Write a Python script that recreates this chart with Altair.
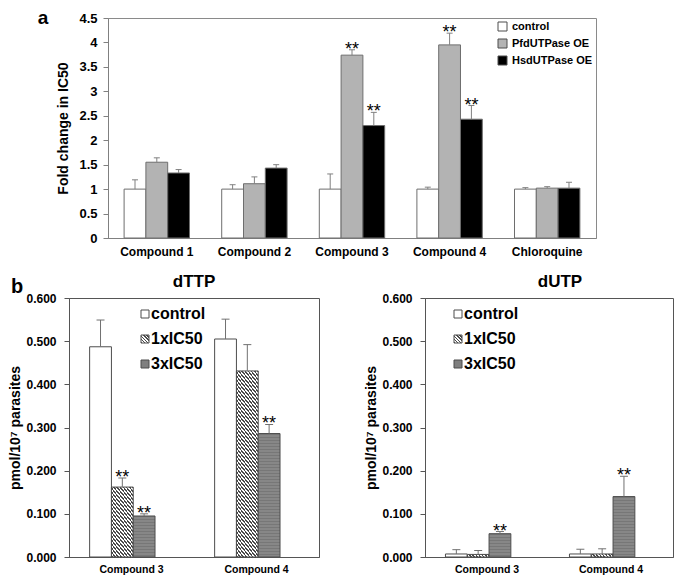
import altair as alt

FONT = "Liberation Sans"

# ---------------- panel a data ----------------
compounds_a = ["Compound 1", "Compound 2", "Compound 3", "Compound 4", "Chloroquine"]
series_a = ["control", "PfdUTPase OE", "HsdUTPase OE"]
control_a = [1.00, 1.00, 1.00, 1.00, 1.00]
control_a_err = [0.19, 0.09, 0.31, 0.04, 0.03]
pfd_a = [1.55, 1.11, 3.74, 3.95, 1.02]
pfd_a_err = [0.09, 0.14, 0.11, 0.24, 0.03]
hsd_a = [1.33, 1.43, 2.30, 2.43, 1.02]
hsd_a_err = [0.07, 0.07, 0.27, 0.28, 0.12]
sig_a_control = ["", "", "", "", ""]
sig_a_pfd = ["", "", "**", "**", ""]
sig_a_hsd = ["", "", "**", "**", ""]
ticks_a = [0, 0.5, 1, 1.5, 2, 2.5, 3, 3.5, 4, 4.5]
colors_a = ["white", "#b3b3b3", "black"]

# ---------------- panel b data ----------------
compounds_b = ["Compound 3", "Compound 4"]
series_b = ["control", "1xIC50", "3xIC50"]
dttp_control = [0.487, 0.505]
dttp_control_err = [0.062, 0.046]
dttp_1x = [0.162, 0.431]
dttp_1x_err = [0.021, 0.061]
dttp_3x = [0.095, 0.286]
dttp_3x_err = [0.005, 0.021]
dttp_sig = [["", ""], ["**", ""], ["**", "**"]]
dutp_control = [0.007, 0.007]
dutp_control_err = [0.010, 0.011]
dutp_1x = [0.006, 0.007]
dutp_1x_err = [0.009, 0.012]
dutp_3x = [0.054, 0.140]
dutp_3x_err = [0.005, 0.047]
dutp_sig = [["", ""], ["", ""], ["**", "**"]]
ticks_b = [0.0, 0.1, 0.2, 0.3, 0.4, 0.5, 0.6]

PAD_IN, PAD_OUT = 0.33, 0.165
W_A, H_A = 488, 220
W_BL, W_BR, H_B = 250, 248, 259
SHIFT_A = 39


def hatch(w, h, period=4.0, dark="#4a4a4a", light="#ffffff"):
    """Diagonal (\\) stripe fill built as a linear gradient in bbox units."""
    w = max(w, 0.5)
    h = max(h, 0.5)
    r = h / w
    a = (1 + r) / (1 + r * r)
    n = (w + h) / period
    stops = []
    k = 0
    while k < n:
        t0 = round(min(k / n, 1), 5)
        t1 = round(min((k + 0.5) / n, 1), 5)
        t2 = round(min((k + 1) / n, 1), 5)
        stops += [{"offset": t0, "color": dark}, {"offset": t1, "color": dark},
                  {"offset": t1, "color": light}, {"offset": t2, "color": light}]
        k += 1
    return {"gradient": "linear", "x1": 0, "y1": 1, "x2": round(a, 5),
            "y2": round(1 - a * r, 5), "stops": stops}


def bands(h, period=3.0, c1="#777777", c2="#878787"):
    """Fine horizontal banding of the 3xIC50 fill."""
    h = max(h, 0.5)
    n = h / period
    stops = []
    k = 0
    while k < n:
        t0 = round(min(k / n, 1), 5)
        t1 = round(min((k + 0.5) / n, 1), 5)
        t2 = round(min((k + 1) / n, 1), 5)
        stops += [{"offset": t0, "color": c1}, {"offset": t1, "color": c1},
                  {"offset": t1, "color": c2}, {"offset": t2, "color": c2}]
        k += 1
    return {"gradient": "linear", "x1": 0, "y1": 0, "x2": 0, "y2": 1, "stops": stops}


def label_layer(text, x, y, size, baseline="alphabetic"):
    return alt.Chart(alt.Data(values=[{"t": text}])).mark_text(
        font=FONT, fontSize=size, fontWeight="bold", align="center",
        baseline=baseline, color="black").encode(
        x=alt.value(x), y=alt.value(y), text="t:N")


# ---------------- panel a ----------------
recs_a = []
for i, c in enumerate(compounds_a):
    for j, (s, vals, errs, sigs) in enumerate(zip(
            series_a, [control_a, pfd_a, hsd_a],
            [control_a_err, pfd_a_err, hsd_a_err],
            [sig_a_control, sig_a_pfd, sig_a_hsd])):
        recs_a.append({"compound": c, "series": s, "sidx": j, "value": vals[i],
                       "top": vals[i] + errs[i], "sig": sigs[i]})

base_a = alt.Chart().encode(
    x=alt.X("compound:N", sort=compounds_a,
            scale=alt.Scale(type="band", paddingInner=PAD_IN, paddingOuter=PAD_OUT),
            axis=alt.Axis(title=None, labelAngle=0, ticks=False, labelFont=FONT,
                          labelFontWeight="bold", labelFontSize=12, labelColor="black",
                          labelPadding=8, domainColor="#808080")),
    xOffset=alt.XOffset("sidx:O",
                        scale=alt.Scale(type="band", paddingInner=0, paddingOuter=0)),
)
scale_ya = alt.Scale(domain=[0, 4.5], nice=False)
axis_ya = alt.Axis(values=ticks_a, format="~g", grid=False, labelOverlap=False,
                   title="Fold change in IC50", titleFont=FONT, titleFontSize=14,
                   titleFontWeight="bold", titleColor="black", titlePadding=8,
                   labelFont=FONT, labelFontSize=13, labelFontWeight="bold",
                   labelColor="black", labelPadding=6, tickSize=5,
                   tickColor="#808080", domainColor="#808080")
bars_a = base_a.mark_bar(stroke="#6e6e6e", strokeWidth=1).encode(
    y=alt.Y("value:Q", scale=scale_ya, axis=axis_ya),
    fill=alt.Fill("series:N", sort=series_a,
                  scale=alt.Scale(domain=series_a, range=colors_a),
                  legend=alt.Legend(title=None, orient="none",
                                    legendX=389 + SHIFT_A, legendY=3,
                                    symbolType="square", symbolSize=81,
                                    symbolStrokeColor="#6e6e6e", symbolStrokeWidth=1,
                                    labelFont=FONT, labelFontSize=11,
                                    labelFontWeight="bold", labelColor="black",
                                    labelOffset=4, rowPadding=4)),
)
err_a = base_a.mark_rule(color="#808080", strokeWidth=1).encode(
    y=alt.Y("value:Q", scale=scale_ya, axis=axis_ya), y2="top:Q")
cap_a = base_a.mark_tick(color="#808080", size=6, thickness=1, opacity=1).encode(
    y=alt.Y("top:Q", scale=scale_ya, axis=axis_ya))
star_a = base_a.mark_text(font=FONT, fontSize=18, baseline="alphabetic", dy=5,
                          color="black").encode(
    y=alt.Y("top:Q", scale=scale_ya, axis=axis_ya), text="sig:N")

panel_a = alt.layer(
    alt.layer(bars_a, err_a, cap_a, star_a, data=alt.Data(values=recs_a)),
    label_layer("a", -65, 0, 19, baseline="middle"),
).properties(width=W_A, height=H_A, view=alt.ViewBackground(stroke="#8a8a8a"))

# blank cell that shifts panel a to the right of panel b's left edge
blank = alt.Chart(alt.Data(values=[{"t": ""}])).mark_text().encode(
    x=alt.value(0), y=alt.value(0), text="t:N").properties(
    width=SHIFT_A, height=H_A, view=alt.ViewBackground(stroke="transparent"))


# ---------------- panel b ----------------
def panel_b(title, vals, errs, sigs, W, H, leg_x, title_dx, show_b):
    step = W / (len(compounds_b) - PAD_IN + 2 * PAD_OUT)
    bw = step * (1 - PAD_IN) / len(series_b)
    recs = []
    for i, c in enumerate(compounds_b):
        for j, s in enumerate(series_b):
            v = vals[j][i]
            if j == 0:
                g = "white"
            elif j == 1:
                g = hatch(bw, v / 0.6 * H)
            else:
                g = bands(v / 0.6 * H)
            recs.append({"compound": c, "series": s, "sidx": j, "value": v,
                         "top": v + errs[j][i], "sig": sigs[j][i], "g": g})
    base = alt.Chart().encode(
        x=alt.X("compound:N", sort=compounds_b,
                scale=alt.Scale(type="band", paddingInner=PAD_IN, paddingOuter=PAD_OUT),
                axis=alt.Axis(title=None, labelAngle=0, ticks=False, labelFont=FONT,
                              labelFontWeight="bold", labelFontSize=10.5,
                              labelColor="black", labelPadding=7,
                              domainColor="#555555")),
        xOffset=alt.XOffset("sidx:O",
                            scale=alt.Scale(type="band", paddingInner=0, paddingOuter=0)),
    )
    scale_y = alt.Scale(domain=[0, 0.6], nice=False)
    axis_y = alt.Axis(values=ticks_b, format=".3f", grid=False, labelOverlap=False,
                      title="pmol/10\u2077 parasites", titleFont=FONT,
                      titleFontSize=14, titleFontWeight="bold", titleColor="black",
                      titlePadding=3, labelFont=FONT, labelFontSize=12,
                      labelFontWeight="bold", labelColor="black", labelPadding=8,
                      tickSize=5, tickColor="#555555", domainColor="#555555")
    bars = base.mark_bar(stroke="#4d4d4d", strokeWidth=1).encode(
        y=alt.Y("value:Q", scale=scale_y, axis=axis_y),
        fill=alt.Fill("g:N", scale=None))
    err = base.mark_rule(color="#707070", strokeWidth=1).encode(
        y=alt.Y("value:Q", scale=scale_y, axis=axis_y), y2="top:Q")
    cap = base.mark_tick(color="#707070", size=8, thickness=1, opacity=1).encode(
        y=alt.Y("top:Q", scale=scale_y, axis=axis_y))
    star = base.mark_text(font=FONT, fontSize=18, baseline="alphabetic", dy=5,
                          color="black").encode(
        y=alt.Y("top:Q", scale=scale_y, axis=axis_y), text="sig:N")
    data_layers = [alt.layer(bars, err, cap, star, data=alt.Data(values=recs)),
                   label_layer(title, W / 2 + title_dx, -11, 17)]
    if show_b:
        data_layers.append(label_layer("b", -52, -5, 20))

    leg_recs = [{"label": "control", "g": "white"},
                {"label": "1xIC50", "g": hatch(8, 8, period=3.2)},
                {"label": "3xIC50", "g": "#7f7f7f"}]
    leg_y = alt.Y("label:N", sort=series_b, axis=None,
                  scale=alt.Scale(range=[16, 66], padding=0))
    leg_base = alt.Chart(alt.Data(values=leg_recs))
    leg_sq = leg_base.mark_square(size=64, stroke="#4d4d4d", strokeWidth=1,
                                  opacity=1).encode(
        x=alt.value(leg_x), y=leg_y, fill=alt.Fill("g:N", scale=None))
    leg_tx = leg_base.mark_text(font=FONT, fontSize=16, fontWeight="bold",
                                align="left", baseline="middle", color="black").encode(
        x=alt.value(leg_x + 6), y=leg_y, text="label:N")

    return alt.layer(alt.layer(*data_layers), alt.layer(leg_sq, leg_tx)).resolve_scale(
        y="independent").properties(
        width=W, height=H, view=alt.ViewBackground(stroke="#555555"))


left_b = panel_b("dTTP", [dttp_control, dttp_1x, dttp_3x],
                 [dttp_control_err, dttp_1x_err, dttp_3x_err], dttp_sig,
                 W_BL, H_B, 76, 0, True)
right_b = panel_b("dUTP", [dutp_control, dutp_1x, dutp_3x],
                  [dutp_control_err, dutp_1x_err, dutp_3x_err], dutp_sig,
                  W_BR, H_B, 33, 11, False)

row_a = alt.hconcat(blank, panel_a, spacing=0, bounds="flush")
row_b = alt.hconcat(left_b, right_b, spacing=106, bounds="flush")
chart = alt.vconcat(row_a, row_b, spacing=14).properties(
    padding={"left": 0, "top": 0, "right": 0, "bottom": 0}
).configure(font=FONT).configure_view(strokeWidth=1)

chart.save("out.html", embed_options={"renderer": "svg", "actions": False})
